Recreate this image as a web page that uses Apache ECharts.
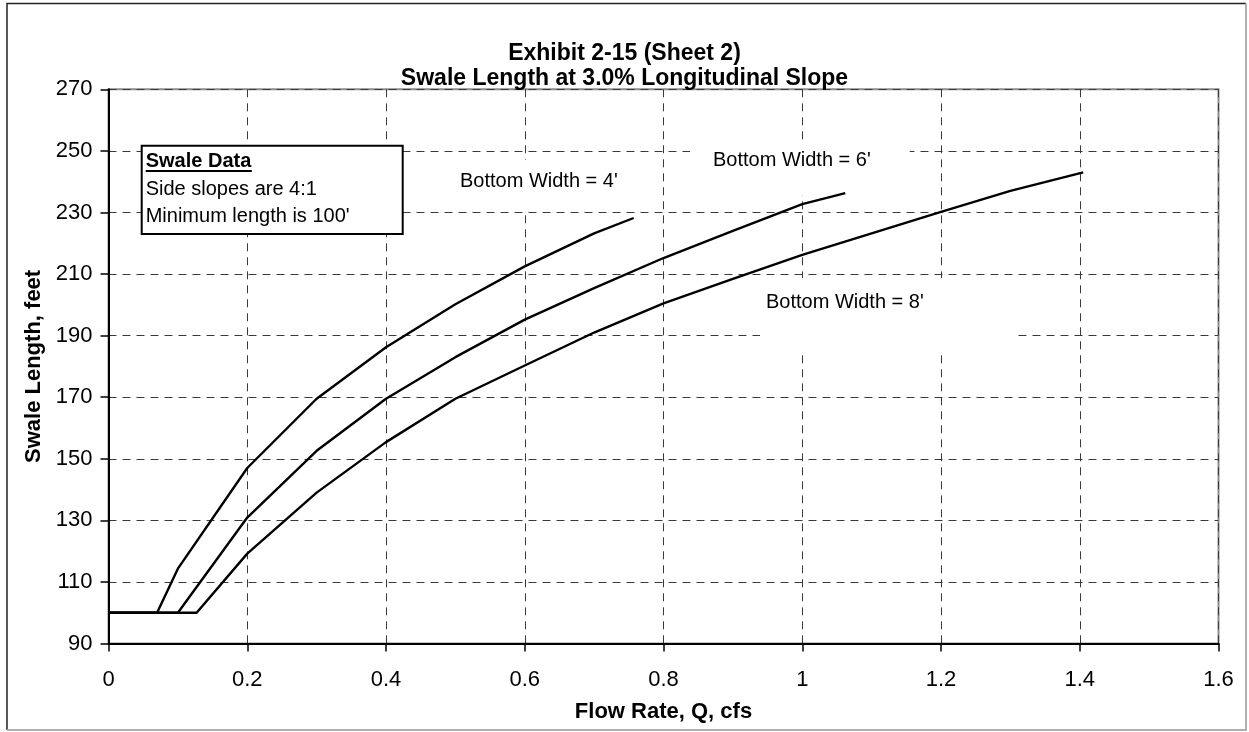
<!DOCTYPE html>
<html>
<head>
<meta charset="utf-8">
<script src="https://cdn.jsdelivr.net/npm/echarts@6/dist/echarts.min.js"></script>
<style>
html,body{margin:0;padding:0;background:#fff;}
#chart{width:1249px;height:732px;}
</style>
</head>
<body>
<div id="chart"></div>
<script>
// ---- data ----
const q4 = [0, 0.07, 0.1, 0.2, 0.3, 0.4, 0.5, 0.6, 0.7, 0.757];
const len4 = [100, 100, 114.3, 147, 169.5, 186.2, 200.2, 212.5, 223.2, 228.2];
const q6 = [0, 0.1, 0.2, 0.3, 0.4, 0.5, 0.6, 0.7, 0.8, 0.9, 1.0, 1.062];
const len6 = [100, 100, 130.9, 152.6, 169.5, 183, 195.2, 205.4, 215.2, 224, 232.7, 236.3];
const q8 = [0, 0.127, 0.2, 0.3, 0.4, 0.5, 0.6, 0.7, 0.8, 0.9, 1.0, 1.1, 1.2, 1.3, 1.405];
const len8 = [100, 100, 119.2, 139, 155.4, 169.5, 180.3, 191, 200.5, 208.4, 216.2, 223.2, 230.2, 237, 243];
const seriesNames = ["Bottom Width = 4'", "Bottom Width = 6'", "Bottom Width = 8'"];
const xAxisRange = [0, 1.6, 0.2];
const yAxisRange = [90, 270, 20];
const titleLines = ['Exhibit 2-15 (Sheet 2)', 'Swale Length at 3.0% Longitudinal Slope'];
const xTitle = 'Flow Rate, Q, cfs';
const yTitle = 'Swale Length, feet';
const noteLines = ['Swale Data', 'Side slopes are 4:1', "Minimum length is 100'"];

const FONT = '"Liberation Sans", Arial, sans-serif';
const pair = (xs, ys) => xs.map((x, i) => [x, ys[i]]);

const chart = echarts.init(document.getElementById('chart'), null, {renderer: 'canvas'});

function labelBox(text, left, top, pad) {
  return {
    type: 'text', z: 1,
    x: left, y: top,
    style: {
      text: text, fill: '#000', font: '20px ' + FONT, lineHeight: 22,
      align: 'left', verticalAlign: 'top',
      backgroundColor: '#fff', padding: pad
    }
  };
}

const option = {
  animation: false,
  backgroundColor: '#fff',
  title: {
    text: titleLines.join('\n'),
    left: 'center', top: 36,
    textStyle: {fontFamily: FONT, fontSize: 23, fontWeight: 'bold', color: '#000', lineHeight: 25}
  },
  grid: {
    left: 108.5, right: 30.5, top: 89.3, bottom: 88.5,
    show: true, borderColor: '#8c8c8c', borderWidth: 2, backgroundColor: '#fff'
  },
  xAxis: {
    type: 'value', min: xAxisRange[0], max: xAxisRange[1], interval: xAxisRange[2],
    name: xTitle, nameLocation: 'middle', nameGap: 57,
    nameTextStyle: {fontFamily: FONT, fontSize: 22, fontWeight: 'bold', color: '#000'},
    axisLine: {show: true, onZero: false, lineStyle: {color: '#000', width: 2}},
    axisTick: {show: true, inside: false, length: 8, lineStyle: {color: '#000', width: 1.5}},
    axisLabel: {fontFamily: FONT, fontSize: 22, color: '#000', margin: 25},
    splitLine: {show: true, lineStyle: {color: '#3a3a3a', width: 1, type: [8, 6]}}
  },
  yAxis: {
    type: 'value', min: yAxisRange[0], max: yAxisRange[1], interval: yAxisRange[2],
    name: yTitle, nameLocation: 'middle', nameGap: 57, nameRotate: 90,
    nameTextStyle: {fontFamily: FONT, fontSize: 22, fontWeight: 'bold', color: '#000'},
    axisLine: {show: true, onZero: false, lineStyle: {color: '#000', width: 2}},
    axisTick: {show: true, inside: false, length: 8, lineStyle: {color: '#000', width: 1.5}},
    axisLabel: {fontFamily: FONT, fontSize: 22, color: '#000', margin: 16},
    splitLine: {show: true, lineStyle: {color: '#3a3a3a', width: 1, type: [8, 6]}}
  },
  series: [
    {name: seriesNames[0], type: 'line', data: pair(q4, len4)},
    {name: seriesNames[1], type: 'line', data: pair(q6, len6)},
    {name: seriesNames[2], type: 'line', data: pair(q8, len8)}
  ].map(s => Object.assign(s, {
    showSymbol: false, symbol: 'none', smooth: false, z: 3,
    lineStyle: {color: '#000', width: 2.4}
  })),
  graphic: [
    // outer chart border
    {type: 'polyline', z: 20, shape: {points: [[7, 730], [7, 3.5], [1246, 3.5]]},
     style: {stroke: '#222', lineWidth: 1.5, fill: null}},
    {type: 'polyline', z: 20, shape: {points: [[1246, 3.5], [1246, 730], [7, 730]]},
     style: {stroke: '#b0b0b0', lineWidth: 2, fill: null}},
    // swale data box
    {type: 'rect', z: 10, shape: {x: 141.7, y: 145.7, width: 261, height: 88.3},
     style: {fill: '#fff', stroke: '#000', lineWidth: 2}},
    {type: 'text', z: 11, x: 145.7, y: 161, style: {text: noteLines[0], font: 'bold 20px ' + FONT, fill: '#000', align: 'left', verticalAlign: 'middle'}},
    {type: 'line', z: 11, shape: {x1: 145.7, y1: 171, x2: 251.8, y2: 171}, style: {stroke: '#000', lineWidth: 2}},
    {type: 'text', z: 11, x: 145.7, y: 189.3, style: {text: noteLines[1], font: '20px ' + FONT, fill: '#000', align: 'left', verticalAlign: 'middle'}},
    {type: 'text', z: 11, x: 145.7, y: 216, style: {text: noteLines[2], font: '20px ' + FONT, fill: '#000', align: 'left', verticalAlign: 'middle'}},
    // curve labels (white text boxes that hide the gridlines behind them)
    labelBox(seriesNames[0], 440, 160, [10, 20, 19, 20]),
    labelBox(seriesNames[1], 690, 143, [6, 39, 24, 23]),
    labelBox(seriesNames[2], 760, 278, [13, 94, 37, 6])
  ]
};
chart.setOption(option);
</script>
</body>
</html>
